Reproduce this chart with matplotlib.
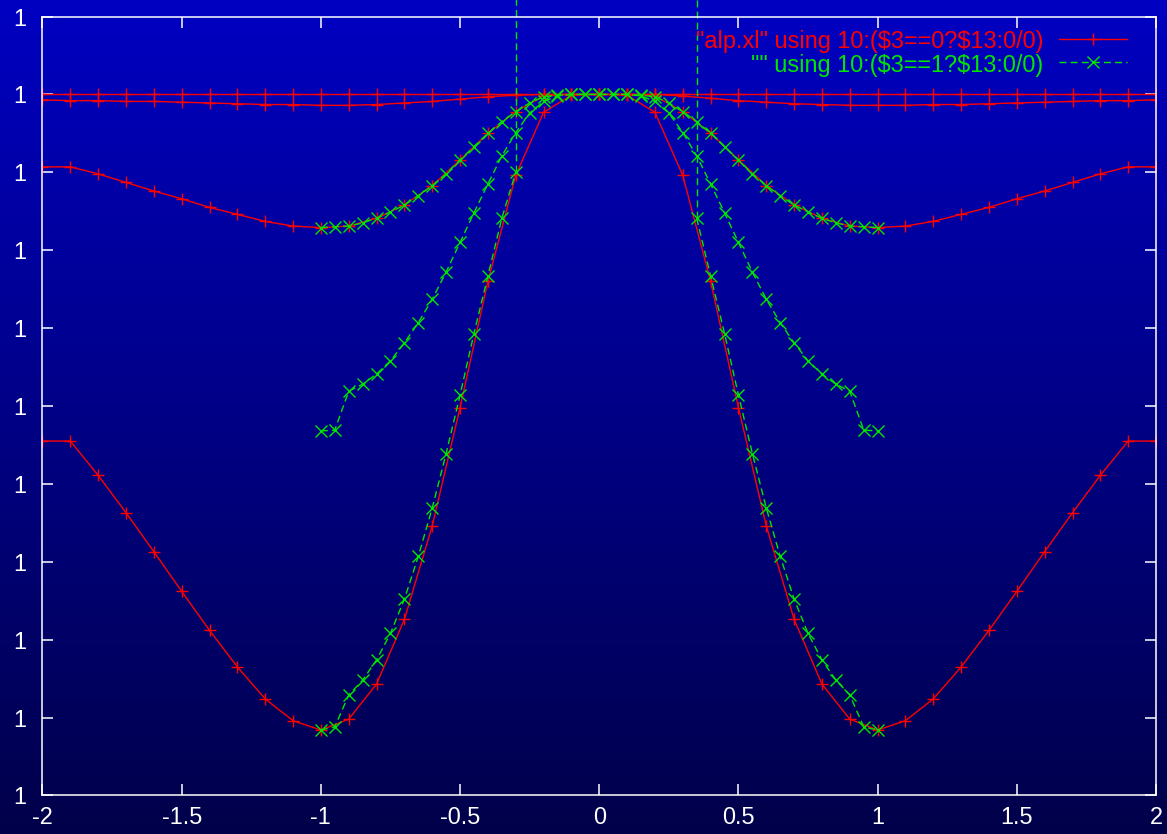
"""
gnuplot-style replot of alp.xl: column 13 vs column 10, split on column 3
"""

import numpy as np
import matplotlib
matplotlib.use("Agg")
import matplotlib.pyplot as plt
from matplotlib.colors import LinearSegmentedColormap
from matplotlib.ticker import FormatStrFormatter

plt.rcParams['font.family'] = ['Liberation Sans', 'DejaVu Sans']

# ---- data ($3 == 0, red, every 0.1) ----
x_red = [-2.0, -1.9, -1.8, -1.7, -1.6, -1.5, -1.4, -1.3, -1.2, -1.1, -1.0,
         -0.9, -0.8, -0.7, -0.6, -0.5, -0.4, -0.3, -0.2, -0.1, 0.0,
         0.1, 0.2, 0.3, 0.4, 0.5, 0.6, 0.7, 0.8, 0.9,
         1.0, 1.1, 1.2, 1.3, 1.4, 1.5, 1.6, 1.7, 1.8, 1.9, 2.0]

red_top = [0.99900, 0.99900, 0.99900, 0.99900, 0.99900, 0.99900, 0.99900, 0.99900, 0.99900, 0.99900, 0.99900,
           0.99900, 0.99900, 0.99900, 0.99900, 0.99900, 0.99900, 0.99900, 0.99900, 0.99900, 0.99900,
           0.99900, 0.99900, 0.99900, 0.99900, 0.99900, 0.99900, 0.99900, 0.99900, 0.99900,
           0.99900, 0.99900, 0.99900, 0.99900, 0.99900, 0.99900, 0.99900, 0.99900, 0.99900, 0.99900, 0.99900]

red_a = [0.99893, 0.99892, 0.99892, 0.99891, 0.99891, 0.99890, 0.99889, 0.99888, 0.99887, 0.99887, 0.99886,
         0.99886, 0.99887, 0.99889, 0.99891, 0.99894, 0.99897, 0.99899, 0.99900, 0.99900, 0.99900,
         0.99900, 0.99900, 0.99898, 0.99895, 0.99892, 0.99890, 0.99888, 0.99887, 0.99886,
         0.99886, 0.99886, 0.99887, 0.99887, 0.99888, 0.99889, 0.99890, 0.99891, 0.99892, 0.99892, 0.99893]

red_b = [0.99807, 0.99807, 0.99798, 0.99787, 0.99776, 0.99766, 0.99755, 0.99746, 0.99737, 0.99731, 0.99729,
         0.99731, 0.99741, 0.99758, 0.99783, 0.99816, 0.99850, 0.99878, 0.99898, 0.99900, 0.99900,
         0.99900, 0.99898, 0.99878, 0.99850, 0.99816, 0.99783, 0.99758, 0.99741, 0.99731,
         0.99729, 0.99731, 0.99737, 0.99746, 0.99755, 0.99766, 0.99776, 0.99787, 0.99798, 0.99807, 0.99807]

red_c = [0.99455, 0.99455, 0.99411, 0.99363, 0.99313, 0.99262, 0.99212, 0.99165, 0.99124, 0.99096, 0.99084,
         0.99098, 0.99143, 0.99226, 0.99346, 0.99498, 0.99660, 0.99796, 0.99877, 0.99899, 0.99900,
         0.99899, 0.99877, 0.99796, 0.99660, 0.99498, 0.99346, 0.99226, 0.99143, 0.99098,
         0.99084, 0.99096, 0.99124, 0.99165, 0.99212, 0.99262, 0.99313, 0.99363, 0.99411, 0.99455, 0.99455]

# ---- data ($3 == 1, green, every 0.05) ----
x_green = [-1.0, -0.95, -0.9, -0.85, -0.8, -0.75, -0.7, -0.65, -0.6, -0.55,
           -0.5, -0.45, -0.4, -0.35, -0.3, -0.25, -0.2, -0.15, -0.1, -0.05, 0.0,
           0.05, 0.1, 0.15, 0.2, 0.25, 0.3, 0.35, 0.4, 0.45, 0.5,
           0.55, 0.6, 0.65, 0.7, 0.75, 0.8, 0.85, 0.9, 0.95, 1.0]

green_a = [0.99729, 0.99730, 0.99731, 0.99735, 0.99741, 0.99749, 0.99758, 0.99770, 0.99783, 0.99798,
           0.99816, 0.99833, 0.99850, 0.99865, 0.99878, 0.99889, 0.99897, 0.99899, 0.99900, 0.99900, 0.99900,
           0.99900, 0.99900, 0.99899, 0.99897, 0.99889, 0.99878, 0.99865, 0.99850, 0.99833, 0.99816,
           0.99798, 0.99783, 0.99770, 0.99758, 0.99749, 0.99741, 0.99735, 0.99731, 0.99730, 0.99729]

green_b = [0.99468, 0.99469, 0.99519, 0.99528, 0.99541, 0.99558, 0.99581, 0.99607, 0.99637, 0.99672,
           0.99710, 0.99748, 0.99785, 0.99821, 0.99851, 0.99876, 0.99891, 0.99898, 0.99900, 0.99900, 0.99900,
           0.99900, 0.99900, 0.99898, 0.99891, 0.99876, 0.99851, 0.99821, 0.99785, 0.99748, 0.99710,
           0.99672, 0.99637, 0.99607, 0.99581, 0.99558, 0.99541, 0.99528, 0.99519, 0.99469, 0.99468]

nan = float('nan')   # 0/0 in gnuplot: point dropped
green_c = [0.99084, 0.99088, 0.99129, 0.99148, 0.99174, 0.99208, 0.99252, 0.99307, 0.99369, 0.99439,
           0.99514, 0.99593, 0.99667, 0.99741, 0.99800, nan, nan, nan, nan, nan, nan,
           nan, nan, nan, nan, nan, nan, 0.99741, 0.99667, 0.99593, 0.99514,
           0.99439, 0.99369, 0.99307, 0.99252, 0.99208, 0.99174, 0.99148, 0.99129, 0.99088, 0.99084]

x_ticks = [-2, -1.5, -1, -0.5, 0, 0.5, 1, 1.5, 2]
x_ticklabels = ['-2', '-1.5', '-1', '-0.5', '0', '0.5', '1', '1.5', '2']
y_ticks = [0.990, 0.991, 0.992, 0.993, 0.994, 0.995, 0.996, 0.997, 0.998, 0.999, 1.000]

legend_red = '"alp.xl" using 10:(\\$3==0?\\$13:0/0)'
legend_green = '"" using 10:(\\$3==1?\\$13:0/0)'

RED = '#ff0000'
GREEN = '#00e600'
FS = 16.9

fig = plt.figure(figsize=(11.67, 8.34), dpi=100)

# blue gradient behind everything
bg = fig.add_axes([0, 0, 1, 1], zorder=0)
grad = np.linspace(0, 1, 256)[:, None]
cmap = LinearSegmentedColormap.from_list('bg', ['#00004a', '#0000c2'])
bg.imshow(grad, aspect='auto', cmap=cmap, origin='lower', extent=[0, 1, 0, 1])
bg.axis('off')

ax = fig.add_axes([0.0364, 0.0462, 0.9542, 0.9340], zorder=1)
ax.set_facecolor('none')

red_kw = dict(color=RED, lw=1.0, marker='+', ms=9, mew=1.0)
green_kw = dict(color=GREEN, lw=1.0, ls=(0, (5, 3)), marker='x', ms=8.5, mew=1.0)

for ys in (red_top, red_a, red_b, red_c):
    ax.plot(x_red, ys, **red_kw)

for ys in (green_a, green_b, green_c):
    ax.plot(x_green, ys, **green_kw)

# the 0/0 gap in green_c: gnuplot shoots the line off to the top there
gc = np.array(green_c)
ok = np.isfinite(gc)
for i in range(len(gc)):
    if ok[i] and ((i + 1 < len(gc) and not ok[i + 1]) or (i > 0 and not ok[i - 1])):
        ax.plot([x_green[i], x_green[i]], [gc[i], 1.01], color=GREEN, lw=1.0,
                ls=(0, (5, 3)), clip_on=False)

ax.set_xlim(-2, 2)
ax.set_ylim(0.99, 1.0)
ax.set_xticks(x_ticks)
ax.set_xticklabels(x_ticklabels)
ax.set_yticks(y_ticks)
ax.yaxis.set_major_formatter(FormatStrFormatter('%.0f'))

ax.tick_params(axis='both', direction='in', length=7.7, width=1.1, colors='white',
               labelsize=FS, top=True, right=True)
ax.tick_params(axis='y', pad=12)
ax.tick_params(axis='x', pad=7.5)
for spine in ax.spines.values():
    spine.set_edgecolor('white')
    spine.set_linewidth(1.1)

# gnuplot style key, text right aligned in front of the sample
ax.text(0.8985, 0.9596, legend_red, color=RED, fontsize=FS, ha='right', va='baseline',
        transform=ax.transAxes)
ax.text(0.8985, 0.9291, legend_green, color=GREEN, fontsize=FS, ha='right', va='baseline',
        transform=ax.transAxes)
ax.plot([0.9131, 0.9737], [0.9711, 0.9711], color=RED, lw=1.0, transform=ax.transAxes)
ax.plot([0.9432], [0.9711], color=RED, marker='+', ms=9, mew=1.0, transform=ax.transAxes)
ax.plot([0.9131, 0.9737], [0.9412, 0.9412], color=GREEN, lw=1.0, ls=(0, (5, 3)),
        transform=ax.transAxes)
ax.plot([0.9432], [0.9412], color=GREEN, marker='x', ms=8.5, mew=1.0, transform=ax.transAxes)

fig.savefig('out.png', dpi=100)
